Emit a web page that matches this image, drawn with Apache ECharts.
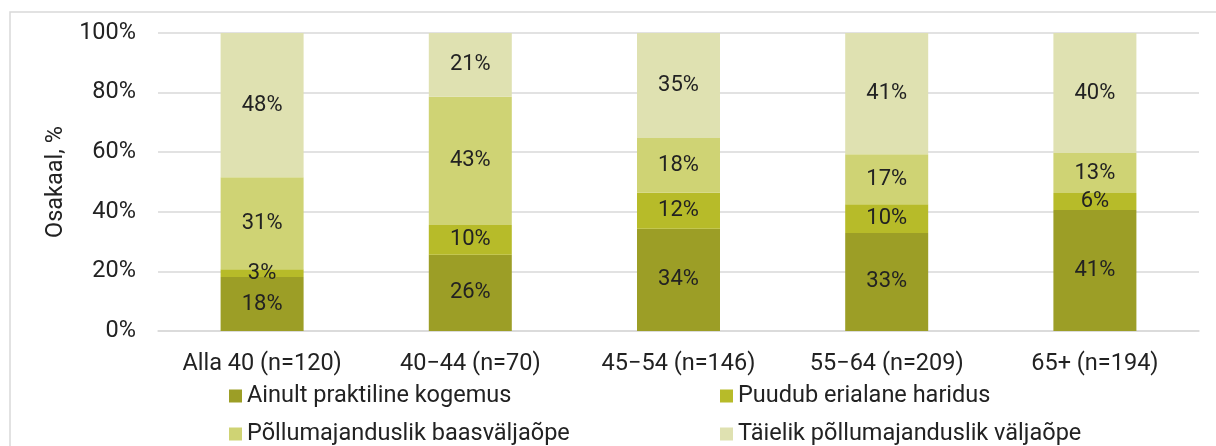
<!DOCTYPE html>
<html>
<head>
<meta charset="utf-8">
<script src="https://cdn.jsdelivr.net/npm/echarts@6/dist/echarts.min.js"></script>
<style>
html,body{margin:0;padding:0;background:#fff;}
#c{width:1216px;height:446px;}
</style>
</head>
<body>
<div id="c"></div>
<script>
const categories = ['Alla 40 (n=120)', '40\u221244 (n=70)', '45\u221254 (n=146)', '55\u221264 (n=209)', '65+ (n=194)'];
const seriesNames = ['Ainult praktiline kogemus', 'Puudub erialane haridus', 'Põllumajanduslik baasväljaõpe', 'Täielik põllumajanduslik väljaõpe'];
const ainultPraktiline = [18.1, 25.6, 34.3, 32.9, 40.6];
const puudubHaridus = [2.6, 10.0, 12.1, 9.6, 5.7];
const baasValjaope = [30.9, 43.0, 18.4, 16.8, 13.4];
const taielikValjaope = [48.4, 21.4, 35.2, 40.7, 40.3];
const yTicks = [0, 20, 40, 60, 80, 100];

const colors = ['#9c9e26', '#b7bb29', '#cfd374', '#dfe1b1'];
const values = [ainultPraktiline, puudubHaridus, baasValjaope, taielikValjaope];
const font = 'Roboto';
const textColor = '#222222';
const fs = 23.5;

const series = seriesNames.map((name, i) => ({
  name: name,
  type: 'bar',
  stack: 'total',
  barWidth: 83,
  data: values[i],
  itemStyle: { color: colors[i] },
  label: {
    show: true,
    position: 'inside',
    fontFamily: font,
    fontSize: 22,
    color: textColor,
    formatter: p => Math.round(p.value) + '%'
  },
  emphasis: { disabled: true }
}));

const legendBase = {
  orient: 'vertical',
  top: 384,
  padding: 0,
  itemWidth: 13, itemHeight: 13, itemGap: 14,
  icon: 'rect',
  textStyle: { fontFamily: font, fontSize: fs, color: textColor, lineHeight: 24 }
};

const chart = echarts.init(document.getElementById('c'), null, { renderer: 'canvas' });
chart.setOption({
  animation: false,
  backgroundColor: '#ffffff',
  textStyle: { fontFamily: font },
  graphic: [{
    type: 'rect',
    shape: { x: 10, y: 12, width: 1230, height: 460 },
    style: { fill: 'none', stroke: '#d9d9d9', lineWidth: 1.5 },
    silent: true
  }],
  grid: { left: 158, right: 17, top: 33, bottom: 115 },
  legend: [
    Object.assign({}, legendBase, { data: [seriesNames[0], seriesNames[2]], left: 229 }),
    Object.assign({}, legendBase, { data: [seriesNames[1], seriesNames[3]], left: 720 })
  ],
  xAxis: {
    type: 'category',
    data: categories,
    axisTick: { show: false },
    axisLine: { lineStyle: { color: '#d9d9d9', width: 1.5 } },
    axisLabel: { fontFamily: font, fontSize: fs, color: textColor, margin: 21 }
  },
  yAxis: {
    type: 'value',
    min: yTicks[0],
    max: yTicks[yTicks.length - 1],
    interval: 20,
    name: 'Osakaal, %',
    nameLocation: 'middle',
    nameGap: 90,
    nameTextStyle: { fontFamily: font, fontSize: fs, color: textColor },
    axisLine: { show: false },
    axisTick: { show: false },
    splitLine: { lineStyle: { color: '#d9d9d9', width: 1.5 } },
    axisLabel: { fontFamily: font, fontSize: fs, color: textColor, margin: 22, formatter: '{value}%' }
  },
  series: series
});
</script>
</body>
</html>
